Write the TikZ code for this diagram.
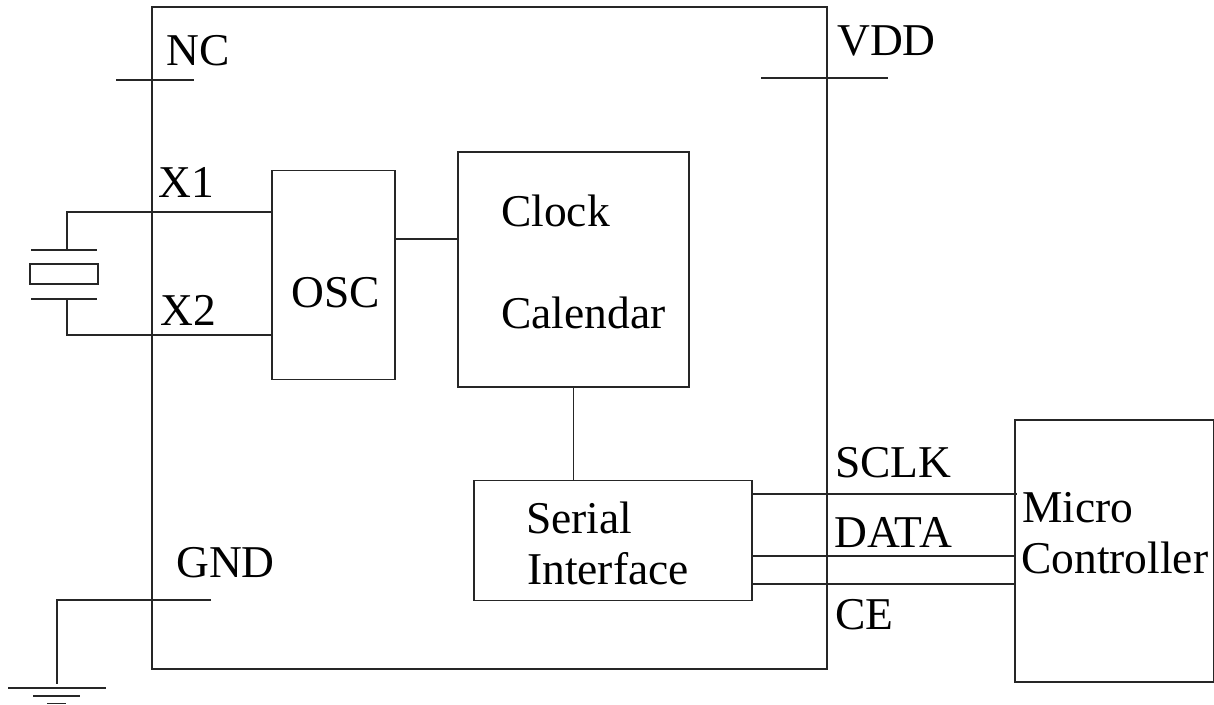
\documentclass[tikz,border=0pt]{standalone}
\usepackage{fontspec}
\setmainfont{Liberation Serif}
\tikzset{
  px/.style={x=1pt,y=-1pt},
  box/.style={draw=black!85,line width=1.6pt,fill=none,inner sep=0pt},
  wire/.style={draw=black!85,line width=1.6pt},
  lbl/.style={font=\fontsize{45.5}{45.5}\selectfont,inner sep=0pt,anchor=base west,text=black}
}
\begin{document}
\begin{tikzpicture}[px]
\useasboundingbox (0,0) rectangle (1214,704);
\coordinate (chipNW) at (152,7); \coordinate (chipSE) at (827,669);
\draw[wire] (chipNW) rectangle (chipSE);
\node[box,minimum width=123pt,minimum height=209pt] (osc) at (333.5,275) {};
\node[box,minimum width=231pt,minimum height=235pt] (clock) at (573.5,269.5) {};
\node[box,minimum width=278pt,minimum height=120pt] (serial) at (613,540.5) {};
\node[box,minimum width=199pt,minimum height=262pt] (mcu) at (1114.5,551) {};
\node[lbl] (tNC) at (166,65) {NC};
\node[lbl] (tVDD) at (837,55) {VDD};
\node[lbl] (tX1) at (158,197) {X1};
\node[lbl] (tX2) at (160,325) {X2};
\node[lbl] (tOSC) at (291,307) {OSC};
\node[lbl] (tClock) at (501,226) {Clock};
\node[lbl] (tCal) at (501,328) {Calendar};
\node[lbl] (tSer) at (526,533) {Serial};
\node[lbl] (tInt) at (527,584) {Interface};
\node[lbl] (tGND) at (176,577) {GND};
\node[lbl] (tSCLK) at (835,477) {SCLK};
\node[lbl] (tDATA) at (834,547) {DATA};
\node[lbl] (tCE) at (835,629) {CE};
\node[lbl] (tMicro) at (1022,522) {Micro};
\node[lbl] (tCtrl) at (1021,573) {Controller};
% pins
\coordinate (nca) at (116,80); \coordinate (ncb) at (194,80);
\draw[wire] (nca) -- (ncb);
\coordinate (vdda) at (761,78); \coordinate (vddb) at (888,78);
\draw[wire] (vdda) -- (vddb);
% internal connectors
\draw[wire] (osc.east |- 0,239) -- (clock.west |- 0,239);
\draw[wire] (clock.south -| 573.5,0) -- (573.5,481);
\draw[wire] (serial.east |- 0,494) -- (1017,494);
\draw[wire] (serial.east |- 0,556) -- (mcu.west |- 0,556);
\draw[wire] (serial.east |- 0,584) -- (mcu.west |- 0,584);
% crystal
\coordinate (xt) at (67,212); \coordinate (xb) at (67,335);
\draw[wire] (osc.west |- 0,212) -- (xt) -- (67,250);
\draw[wire] (osc.west |- 0,335) -- (xb) -- (67,299);
\draw[wire] (31,250) -- (97,250);
\draw[wire] (31,299) -- (97,299);
\draw[wire] (30,264) rectangle (98,284);
% ground
\coordinate (g1) at (211,600); \coordinate (g2) at (57,600); \coordinate (g3) at (57,684);
\draw[wire] (g1) -- (g2) -- (g3);
\draw[wire] (8,688) -- (106,688);
\draw[wire] (33,696) -- (80,696);
\draw[wire] (47,703.5) -- (66,703.5);
\end{tikzpicture}
\end{document}
